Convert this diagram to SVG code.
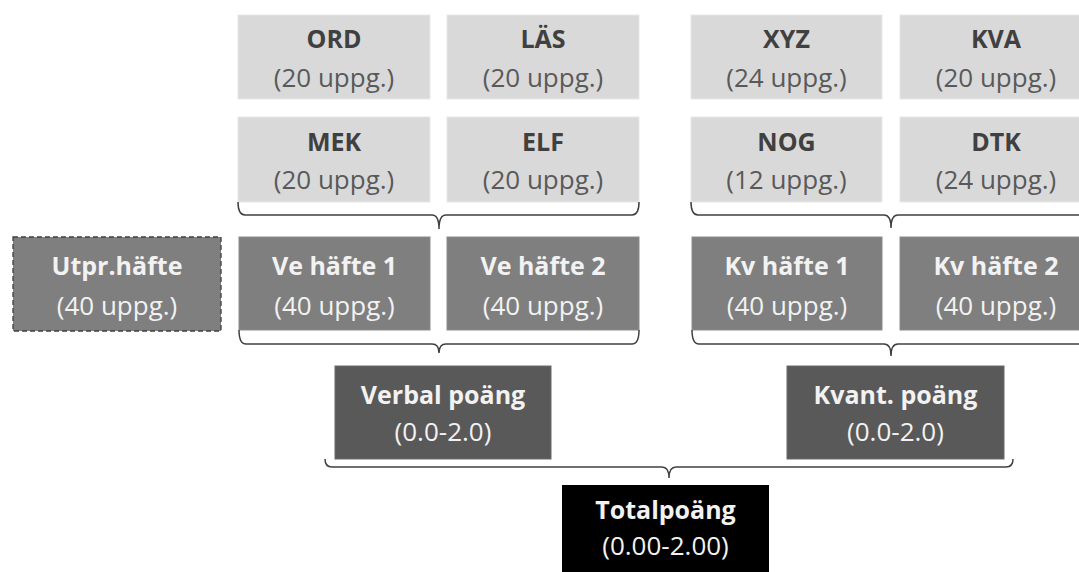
<svg xmlns="http://www.w3.org/2000/svg" width="1079" height="572" viewBox="0 0 1079 572">
<style>
text{font-family:"Open Sans","Liberation Sans",sans-serif;font-size:26px;text-anchor:middle}
.t{font-weight:bold;font-size:25px}
.lt rect{fill:#d9d9d9;stroke:#e8e8e8;stroke-width:1}
.lt .t{fill:#404040}
.lt .s{fill:#595959}
.md rect{fill:#7f7f7f;stroke:#8c8c8c;stroke-width:1}
.md text{fill:#f2f2f2}
.dk rect{fill:#595959;stroke:#6a6a6a;stroke-width:1}
.dk text{fill:#f2f2f2}
.bk rect{fill:#000}
.bk text{fill:#f2f2f2}
.br{fill:none;stroke:#404040;stroke-width:1.5}
</style>
<g id="ORD" class="lt"><rect x="238" y="15" width="192" height="84"/><text class="t" x="334" y="48">ORD</text><text class="s" x="334" y="87">(20 uppg.)</text></g>
<g id="LAS" class="lt"><rect x="447" y="15" width="192" height="84"/><text class="t" x="543" y="48">LÄS</text><text class="s" x="543" y="87">(20 uppg.)</text></g>
<g id="XYZ" class="lt"><rect x="691" y="15" width="191" height="84"/><text class="t" x="786.5" y="48">XYZ</text><text class="s" x="786.5" y="87">(24 uppg.)</text></g>
<g id="KVA" class="lt"><rect x="900" y="15" width="192" height="84"/><text class="t" x="996" y="48">KVA</text><text class="s" x="996" y="87">(20 uppg.)</text></g>
<g id="MEK" class="lt"><rect x="238" y="117" width="192" height="85"/><text class="t" x="334" y="151">MEK</text><text class="s" x="334" y="189">(20 uppg.)</text></g>
<g id="ELF" class="lt"><rect x="447" y="117" width="192" height="85"/><text class="t" x="543" y="151">ELF</text><text class="s" x="543" y="189">(20 uppg.)</text></g>
<g id="NOG" class="lt"><rect x="691" y="117" width="191" height="85"/><text class="t" x="786.5" y="151">NOG</text><text class="s" x="786.5" y="189">(12 uppg.)</text></g>
<g id="DTK" class="lt"><rect x="900" y="117" width="192" height="85"/><text class="t" x="996" y="151">DTK</text><text class="s" x="996" y="189">(24 uppg.)</text></g>
<g id="Utpr" class="md"><rect x="13" y="237" width="208" height="94" style="stroke:#404040;stroke-dasharray:5 3;stroke-width:1.3"/><text class="t" x="117" y="275">Utpr.häfte</text><text x="117" y="315">(40 uppg.)</text></g>
<g id="Ve1" class="md"><rect x="239" y="237" width="191" height="93"/><text class="t" x="334.5" y="275">Ve häfte 1</text><text x="334.5" y="315">(40 uppg.)</text></g>
<g id="Ve2" class="md"><rect x="447" y="237" width="192" height="93"/><text class="t" x="543" y="275">Ve häfte 2</text><text x="543" y="315">(40 uppg.)</text></g>
<g id="Kv1" class="md"><rect x="692" y="237" width="190" height="93"/><text class="t" x="787" y="275">Kv häfte 1</text><text x="787" y="315">(40 uppg.)</text></g>
<g id="Kv2" class="md"><rect x="900" y="237" width="192" height="93"/><text class="t" x="996" y="275">Kv häfte 2</text><text x="996" y="315">(40 uppg.)</text></g>
<g id="Verbal" class="dk"><rect x="335" y="366" width="216" height="93"/><text class="t" x="443" y="404">Verbal poäng</text><text x="443" y="441">(0.0-2.0)</text></g>
<g id="Kvant" class="dk"><rect x="787" y="366" width="217" height="93"/><text class="t" x="895.5" y="404">Kvant. poäng</text><text x="895.5" y="441">(0.0-2.0)</text></g>
<g id="Total" class="bk"><rect x="562" y="485" width="207" height="95"/><text class="t" x="665.5" y="519">Totalpoäng</text><text x="665.5" y="555">(0.00-2.00)</text></g>
<g id="connectors">
<path class="br" d="M238,202 Q238,215 245,215 L432,215 Q439,215 439,229 Q439,215 446,215 L632,215 Q639,215 639,202"/>
<path class="br" d="M239,330 Q239,344 246,344 L432,344 Q439,344 439,353 Q439,344 446,344 L632,344 Q639,344 639,330"/>
<path class="br" d="M691,202 Q691,215 698,215 L884,215 Q891,215 891,228 Q891,215 898,215 L1085,215 Q1092,215 1092,202"/>
<path class="br" d="M692,330 Q692,344 699,344 L884,344 Q891,344 891,356 Q891,344 898,344 L1085,344 Q1092,344 1092,330"/>
<path class="br" d="M325,459 Q325,467 332,467 L662,467 Q669,467 669,478 Q669,467 676,467 L1006,467 Q1013,467 1013,459"/>
</g>
</svg>
